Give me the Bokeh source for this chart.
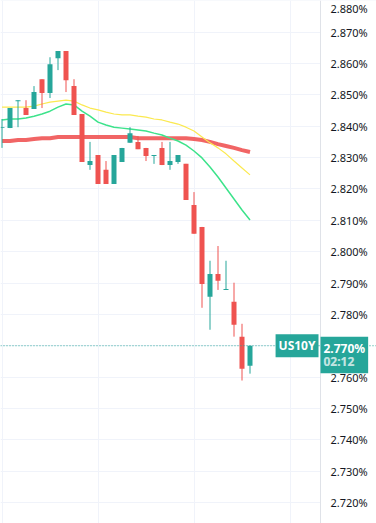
from bokeh.plotting import figure
from bokeh.models import (ColumnDataSource, FixedTicker, Label, Span, BoxAnnotation,
                          PrintfTickFormatter, Range1d)
from bokeh.embed import file_html
from bokeh.resources import INLINE

# ---- data ----
opens  = [2.8394, 2.8394, 2.8480, 2.8458, 2.8455, 2.8550, 2.8506, 2.8617, 2.8640, 2.8528,
          2.8439, 2.8276, 2.8308, 2.8261, 2.8216, 2.8286, 2.8347, 2.8350, 2.8331, 2.8305,
          2.8331, 2.8276, 2.8286, 2.8280, 2.8149, 2.8079, 2.7856, 2.7929, 2.7878, 2.7840,
          2.7729, 2.7636]
highs  = [2.8423, 2.8458, 2.8483, 2.8483, 2.8528, 2.8550, 2.8620, 2.8640, 2.8640, 2.8550,
          2.8439, 2.8350, 2.8308, 2.8289, 2.8308, 2.8331, 2.8397, 2.8369, 2.8331, 2.8308,
          2.8350, 2.8350, 2.8308, 2.8280, 2.8190, 2.8079, 2.7971, 2.8018, 2.7971, 2.7901,
          2.7770, 2.7700]
lows   = [2.8331, 2.8394, 2.8397, 2.8436, 2.8455, 2.8458, 2.8490, 2.8579, 2.8509, 2.8436,
          2.8286, 2.8261, 2.8216, 2.8216, 2.8216, 2.8286, 2.8347, 2.8327, 2.8289, 2.8280,
          2.8276, 2.8261, 2.8280, 2.8165, 2.8057, 2.7821, 2.7751, 2.7878, 2.7878, 2.7729,
          2.7589, 2.7611]
closes = [2.8397, 2.8458, 2.8483, 2.8436, 2.8509, 2.8506, 2.8598, 2.8640, 2.8547, 2.8436,
          2.8286, 2.8289, 2.8216, 2.8216, 2.8308, 2.8331, 2.8378, 2.8327, 2.8305, 2.8308,
          2.8276, 2.8289, 2.8308, 2.8165, 2.8057, 2.7897, 2.7929, 2.7907, 2.7881, 2.7767,
          2.7627, 2.7700]

ma_yellow = [2.8461, 2.8461, 2.8461, 2.8461, 2.8464, 2.8471, 2.8477, 2.8480, 2.8483, 2.8480,
             2.8468, 2.8458, 2.8452, 2.8445, 2.8439, 2.8436, 2.8436, 2.8432, 2.8429, 2.8423,
             2.8420, 2.8413, 2.8407, 2.8397, 2.8385, 2.8366, 2.8347, 2.8331, 2.8312, 2.8289,
             2.8267, 2.8245]
ma_green = [2.8420, 2.8423, 2.8423, 2.8426, 2.8432, 2.8439, 2.8448, 2.8461, 2.8471, 2.8468,
            2.8448, 2.8432, 2.8413, 2.8404, 2.8397, 2.8394, 2.8391, 2.8388, 2.8385, 2.8378,
            2.8372, 2.8362, 2.8353, 2.8340, 2.8321, 2.8299, 2.8270, 2.8238, 2.8203, 2.8168,
            2.8133, 2.8101]
ma_red = [2.8353, 2.8353, 2.8356, 2.8356, 2.8359, 2.8362, 2.8362, 2.8366, 2.8366, 2.8366,
          2.8366, 2.8366, 2.8366, 2.8366, 2.8366, 2.8366, 2.8366, 2.8362, 2.8362, 2.8362,
          2.8362, 2.8362, 2.8362, 2.8362, 2.8359, 2.8356, 2.8350, 2.8343, 2.8337, 2.8331,
          2.8324, 2.8318]

yticks = [2.72, 2.73, 2.74, 2.75, 2.76, 2.77, 2.78, 2.79, 2.80, 2.81, 2.82, 2.83, 2.84,
          2.85, 2.86, 2.87, 2.88]
vgrid_bars = [0, 12, 24, 36]
symbol = "US10Y"
countdown = "02:12"

UP = "#26a69a"
DOWN = "#ef5350"

idx = list(range(len(opens)))
colors = [UP if c >= o else DOWN for o, c in zip(opens, closes)]
tops = [max(o, c) for o, c in zip(opens, closes)]
bots = [min(o, c) for o, c in zip(opens, closes)]
bots = [b if t - b > 0.0003 else t - 0.0003 for t, b in zip(tops, bots)]

src = ColumnDataSource(dict(x=idx, o=opens, h=highs, l=lows, c=closes,
                            top=tops, bot=bots, color=colors,
                            y1=ma_yellow, g=ma_green, r=ma_red))

W, H, AXW = 376, 523, 56
PX_PER_BAR = 8
x_start = -0.1875
x_end = x_start + W / PX_PER_BAR          # frame spans the full width
x_axis = x_start + (W - AXW) / PX_PER_BAR  # where the price scale begins
y_start, y_end = 2.71331, 2.8801

p = figure(width=W, height=H, output_backend="svg", toolbar_location=None,
           x_range=Range1d(x_start, x_end), y_range=Range1d(y_start, y_end),
           y_axis_location="right",
           min_border_left=0, min_border_top=0, min_border_bottom=0, min_border_right=0)
p.outline_line_color = None
p.background_fill_color = "white"
p.border_fill_color = "white"
p.xaxis.visible = False

ax = p.yaxis[0]
ax.ticker = FixedTicker(ticks=yticks)
ax.formatter = PrintfTickFormatter(format="%.3f%%")
ax.major_tick_line_color = None
ax.minor_tick_line_color = None
ax.major_tick_out = 0
ax.major_tick_in = 0
ax.minor_tick_out = 0
ax.axis_line_color = None
ax.major_label_standoff = -(AXW - 10)
ax.major_label_text_font = "Noto Sans"
ax.major_label_text_font_size = "11px"
ax.major_label_text_color = "#131722"

p.ygrid.grid_line_color = "#f0f3fa"
p.ygrid.ticker = FixedTicker(ticks=yticks)
p.xgrid.grid_line_color = "#f0f3fa"
p.xgrid.ticker = FixedTicker(ticks=vgrid_bars)

# blank price-scale area and its border line
p.add_layout(BoxAnnotation(left=x_axis, fill_color="white", fill_alpha=1.0,
                           line_color=None, level="underlay"))
p.add_layout(Span(location=x_axis, dimension="height", line_color="#dfe2e8",
                  line_width=1, level="underlay"))

# moving averages
p.line("x", "r", source=src, line_color="#f05454", line_width=4, line_alpha=0.9)
p.line("x", "g", source=src, line_color="#3de38b", line_width=1.5)
p.line("x", "y1", source=src, line_color="#fbe94f", line_width=1.2)

# candles
p.segment("x", "h", "x", "l", source=src, line_color="color", line_width=1)
p.vbar(x="x", top="top", bottom="bot", width=0.625, source=src,
       fill_color="color", line_color=None)

# price line
last = closes[-1]
p.add_layout(Span(location=last, dimension="width", line_color=UP,
                  line_dash="1 2", line_width=1))

p.add_layout(Label(x=x_axis - 0.25, y=last, text=symbol, anchor="center_right",
                   text_font="Noto Sans", text_font_size="12px", text_font_style="bold",
                   text_color="white", background_fill_color=UP, padding=3))

tag_kw = dict(x=x_axis, y=last, y_offset=9, anchor="top_left", text_font="Noto Sans",
              text_font_size="12px", text_font_style="bold", text_line_height=0.8,
              padding=3)
p.add_layout(Label(text=f"{last:.3f}%\n{countdown}", text_color="white",
                   background_fill_color=UP, **tag_kw))
p.add_layout(Label(text=f" \n{countdown}", text_color=UP, text_alpha=0.3, **tag_kw))

open("out.html", "w").write(file_html(p, INLINE))
